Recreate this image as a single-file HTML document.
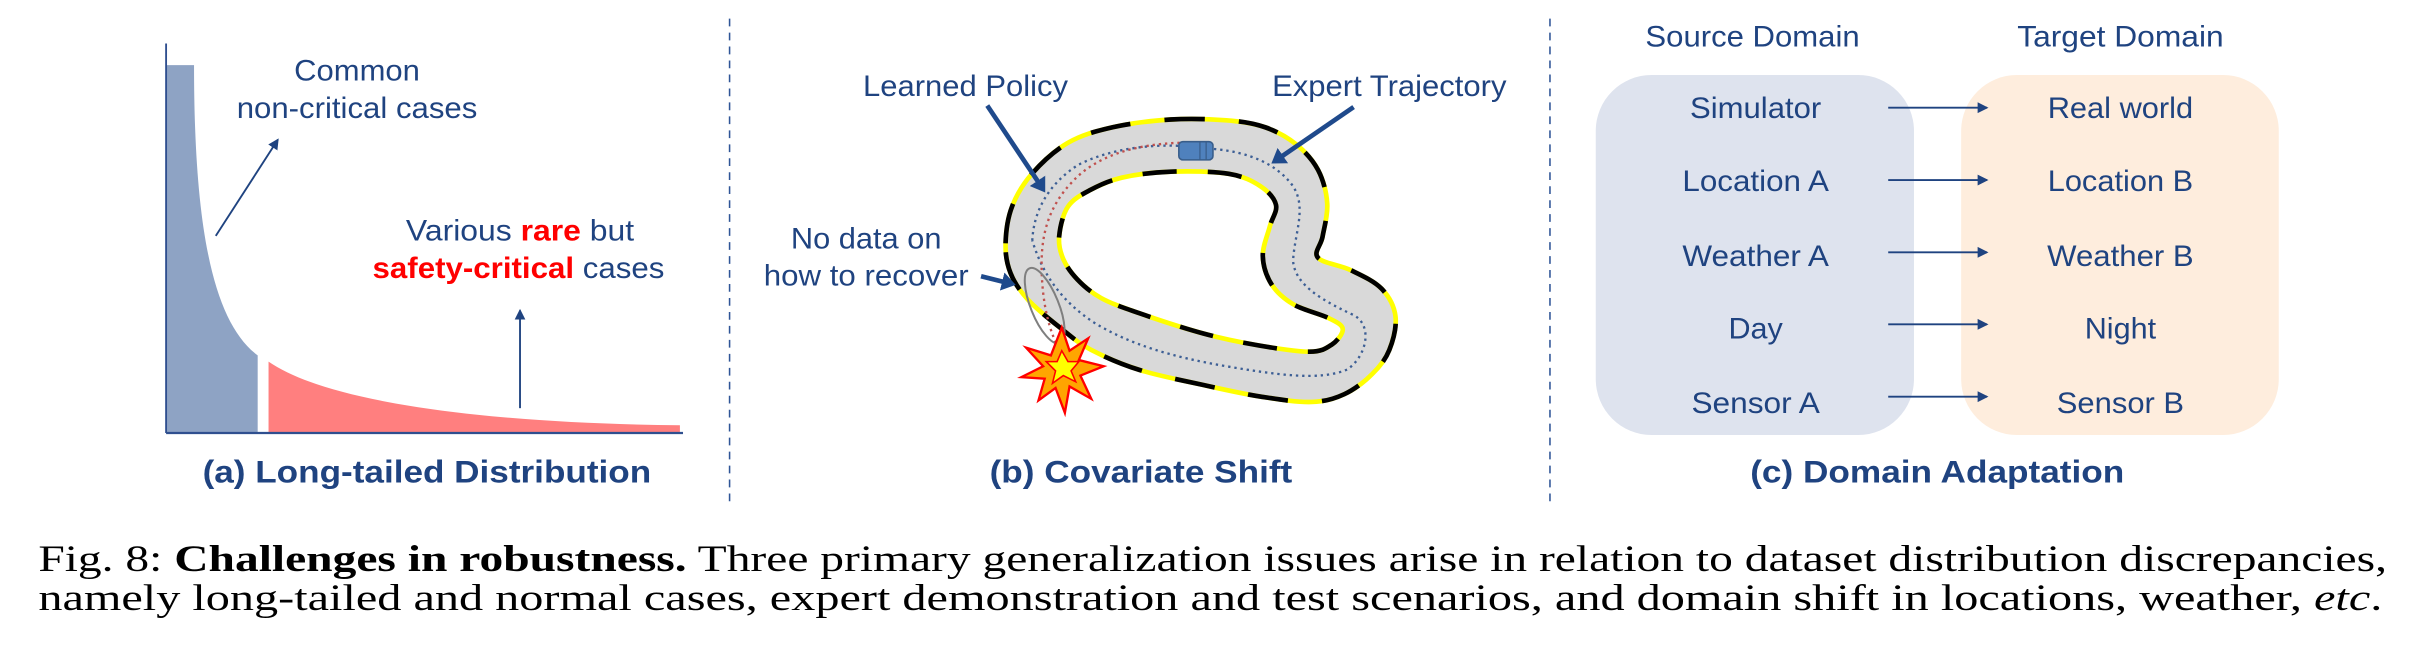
<!DOCTYPE html>
<html><head><meta charset="utf-8"><style>
html,body{margin:0;padding:0;background:#fff;}
svg{display:block;}
text{font-family:"Liberation Sans",Arial,sans-serif;fill:#1f4380;}
.s{font-family:"Liberation Serif",serif;fill:#000;}
</style></head><body>
<svg width="2434" height="672" viewBox="0 0 1568 433" preserveAspectRatio="none" xmlns="http://www.w3.org/2000/svg">
<defs>
<marker id="ah" markerWidth="8" markerHeight="8" refX="6" refY="4" orient="auto" markerUnits="userSpaceOnUse"><path d="M0,0.5 L7,4 L0,7.5 Z" fill="#1f4380"/></marker>
<marker id="ahb" markerWidth="4" markerHeight="4" refX="2.2" refY="2" orient="auto"><path d="M0,0 L3,2 L0,4 Z" fill="#1f4a8c"/></marker>
</defs>

<!-- Panel a -->
<path d="M107,42 L125,42 C125,150 138,208 166,229 L166,279 L107,279 Z" fill="#8ea3c4"/>
<path d="M173,233 C215,262 330,273 438,274 L438,279 L173,279 Z" fill="#ff7f7f"/>
<line x1="107" y1="28" x2="107" y2="279" stroke="#2f4f8f" stroke-width="1.2"/>
<line x1="107" y1="279" x2="440" y2="279" stroke="#2f4f8f" stroke-width="1.5"/>
<line x1="139" y1="152" x2="179" y2="90" stroke="#1f4380" stroke-width="1.2" marker-end="url(#ah)"/>
<line x1="335" y1="263" x2="335" y2="200" stroke="#1f4380" stroke-width="1.2" marker-end="url(#ah)"/>
<text x="230" y="52" font-size="19" text-anchor="middle" textLength="81" lengthAdjust="spacingAndGlyphs">Common</text>
<text x="230" y="76" font-size="19" text-anchor="middle" textLength="155" lengthAdjust="spacingAndGlyphs">non-critical cases</text>
<text x="335" y="155" font-size="19" text-anchor="middle" textLength="147" lengthAdjust="spacingAndGlyphs">Various <tspan fill="#ff0000" font-weight="bold">rare</tspan> but</text>
<text x="334" y="179" font-size="19" text-anchor="middle" textLength="188" lengthAdjust="spacingAndGlyphs"><tspan fill="#ff0000" font-weight="bold">safety-critical</tspan> cases</text>
<text x="275" y="311" font-size="20.5" font-weight="bold" text-anchor="middle" textLength="289" lengthAdjust="spacingAndGlyphs">(a) Long-tailed Distribution</text>

<line x1="470" y1="12" x2="470" y2="325" stroke="#2f5597" stroke-width="1" stroke-dasharray="5,4"/>
<line x1="998.5" y1="12" x2="998.5" y2="325" stroke="#2f5597" stroke-width="1" stroke-dasharray="5,4"/>

<!-- Panel b track -->
<g stroke-linejoin="round" stroke-linecap="butt">
<path id="o1" d="" fill="#d9d9d9" stroke="#ffff00" stroke-width="3"/>
<path id="o2" d="" fill="none" stroke="#000" stroke-width="3" stroke-dasharray="26,22"/>
<path id="i1" d="" fill="#fff" stroke="#ffff00" stroke-width="3"/>
<path id="i2" d="" fill="none" stroke="#000" stroke-width="3" stroke-dasharray="22,20" stroke-dashoffset="10"/>
</g>
<path d="M665,155 C666,135 676,118 695,106 C715,96 740,93 760,94 M782,96 C805,98 823,106 833,120 C842,134 834,150 833,168 C834,182 848,192 872,203 C885,210 880,230 868,238 C850,246 820,241 790,236 C755,230 728,222 705,208 C685,195 672,178 665,155" fill="none" stroke="#3d5f95" stroke-width="1.5" stroke-dasharray="1.5,2.5"/>
<path d="M760,92 C730,93 705,101 690,118 C676,133 671,150 671,170 C671,195 676,215 684,228" fill="none" stroke="#c0504d" stroke-width="1.5" stroke-dasharray="1.5,2.5"/>
<rect x="759.4" y="91.3" width="22" height="11.7" rx="2.5" fill="#4f81bd" stroke="#385d8a" stroke-width="1"/>
<line x1="773" y1="91.3" x2="773" y2="103" stroke="#385d8a" stroke-width="0.8"/>
<line x1="777" y1="91.3" x2="777" y2="103" stroke="#385d8a" stroke-width="0.8"/>
<ellipse cx="673" cy="197" rx="9" ry="26" transform="rotate(-22 673 197)" fill="none" stroke="#7f7f7f" stroke-width="1.3"/>
<polygon points="684,211 689,226 701,218 695,232 711,236 696,242 703,257 689,249 686,266 680,250 669,258 673,244 658,243 672,236 661,224 677,229" fill="#ffa500" stroke="#ff0000" stroke-width="1.5" stroke-linejoin="miter"/>
<polygon points="684,226 688,233 695,233 690,239 693,246 685,242 678,247 680,239 674,233 681,233" fill="#ffff00" stroke="#ff0000" stroke-width="1"/>
<line x1="636" y1="68" x2="672" y2="122" stroke="#1f4a8c" stroke-width="3" marker-end="url(#ahb)"/>
<line x1="872" y1="69" x2="821" y2="104" stroke="#1f4a8c" stroke-width="3" marker-end="url(#ahb)"/>
<line x1="632" y1="178" x2="652" y2="183" stroke="#1f4a8c" stroke-width="3" marker-end="url(#ahb)"/>
<text x="622" y="62" font-size="19" text-anchor="middle" textLength="132" lengthAdjust="spacingAndGlyphs">Learned Policy</text>
<text x="895" y="62" font-size="19" text-anchor="middle" textLength="151" lengthAdjust="spacingAndGlyphs">Expert Trajectory</text>
<text x="558" y="160" font-size="19" text-anchor="middle" textLength="97" lengthAdjust="spacingAndGlyphs">No data on</text>
<text x="558" y="184" font-size="19" text-anchor="middle" textLength="132" lengthAdjust="spacingAndGlyphs">how to recover</text>
<text x="735" y="311" font-size="20.5" font-weight="bold" text-anchor="middle" textLength="195" lengthAdjust="spacingAndGlyphs">(b) Covariate Shift</text>

<!-- Panel c -->
<rect x="1028" y="48.3" width="205" height="232" rx="36" fill="#dee3ee"/>
<rect x="1263.4" y="48.3" width="204.6" height="232" rx="36" fill="#feeddd"/>
<text x="1129" y="30" font-size="19" text-anchor="middle" textLength="138" lengthAdjust="spacingAndGlyphs">Source Domain</text>
<text x="1366" y="30" font-size="19" text-anchor="middle" textLength="133" lengthAdjust="spacingAndGlyphs">Target Domain</text>
<g font-size="19" text-anchor="middle">
<text x="1131" y="76" textLength="84.5" lengthAdjust="spacingAndGlyphs">Simulator</text>
<text x="1131" y="123" textLength="94.4" lengthAdjust="spacingAndGlyphs">Location A</text>
<text x="1131" y="171.5" textLength="94.4" lengthAdjust="spacingAndGlyphs">Weather A</text>
<text x="1131" y="218" textLength="35" lengthAdjust="spacingAndGlyphs">Day</text>
<text x="1131" y="266" textLength="82.7" lengthAdjust="spacingAndGlyphs">Sensor A</text>
<text x="1366" y="76" textLength="93.7" lengthAdjust="spacingAndGlyphs">Real world</text>
<text x="1366" y="123" textLength="93.7" lengthAdjust="spacingAndGlyphs">Location B</text>
<text x="1366" y="171.5" textLength="94.4" lengthAdjust="spacingAndGlyphs">Weather B</text>
<text x="1366" y="218" textLength="46" lengthAdjust="spacingAndGlyphs">Night</text>
<text x="1366" y="266" textLength="82" lengthAdjust="spacingAndGlyphs">Sensor B</text>
</g>
<g stroke="#1f4380" stroke-width="1.2" marker-end="url(#ah)">
<line x1="1216.4" y1="69.4" x2="1280" y2="69.4"/>
<line x1="1216.4" y1="116" x2="1280" y2="116"/>
<line x1="1216.4" y1="162.6" x2="1280" y2="162.6"/>
<line x1="1216.4" y1="209" x2="1280" y2="209"/>
<line x1="1216.4" y1="255.6" x2="1280" y2="255.6"/>
</g>
<text x="1248" y="311" font-size="20.5" font-weight="bold" text-anchor="middle" textLength="241" lengthAdjust="spacingAndGlyphs">(c) Domain Adaptation</text>

<!-- Caption -->
<text class="s" x="24.7" y="368" font-size="24" textLength="1513" lengthAdjust="spacingAndGlyphs">Fig. 8: <tspan font-weight="bold">Challenges in robustness.</tspan> Three primary generalization issues arise in relation to dataset distribution discrepancies,</text>
<text class="s" x="24.7" y="393" font-size="24" textLength="1510" lengthAdjust="spacingAndGlyphs">namely long-tailed and normal cases, expert demonstration and test scenarios, and domain shift in locations, weather, <tspan font-style="italic">etc</tspan>.</text>
</svg>
<script>
function cr(p){var n=p.length,d="M"+p[0][0]+","+p[0][1];for(var i=0;i<n;i++){var p0=p[(i-1+n)%n],p1=p[i],p2=p[(i+1)%n],p3=p[(i+2)%n];d+=" C"+(p1[0]+(p2[0]-p0[0])/6).toFixed(1)+","+(p1[1]+(p2[1]-p0[1])/6).toFixed(1)+" "+(p2[0]-(p3[0]-p1[0])/6).toFixed(1)+","+(p2[1]-(p3[1]-p1[1])/6).toFixed(1)+" "+p2[0]+","+p2[1];}return d+"Z";}
var O=[[647.8,156.8],[652,133],[665,111.7],[688,92],[716.8,82],[754.2,77],[790,77.5],[815,82],[835,93],[849.1,109.5],[855,131],[852,152.5],[849,166],[870,174],[890,186],[899,204],[895,225.5],[884,241],[866,254],[845,259],[812.4,255.6],[774.9,248],[734.2,238.4],[703,225.5],[684,212],[662.4,193.3],[651,176]];
var I=[[682.3,152.5],[688,133.1],[702.4,122.4],[722.6,114.5],[754.2,110.6],[791.6,112],[812,120],[822,132],[818,146],[813.5,165],[819,183],[833,196],[856,205],[865,212],[858,222],[843.6,226.6],[809.3,222.3],[774.9,214.8],[734.2,201.9],[709.3,192],[694,180],[685,167]];
var o=cr(O),i=cr(I);
document.getElementById("o1").setAttribute("d",o);document.getElementById("o2").setAttribute("d",o);
document.getElementById("i1").setAttribute("d",i);document.getElementById("i2").setAttribute("d",i);
</script>
</body></html>
